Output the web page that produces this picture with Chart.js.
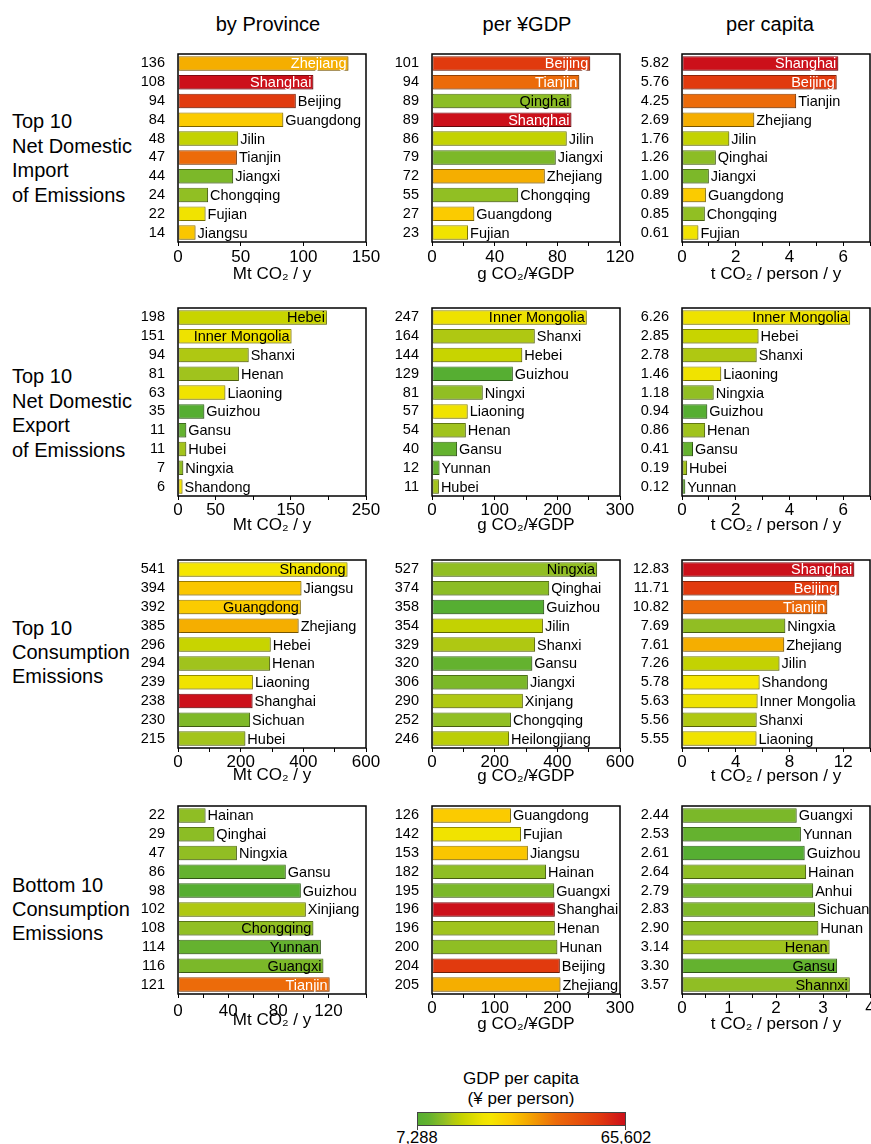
<!DOCTYPE html>
<html>
<head>
<meta charset="utf-8">
<script src="https://cdn.jsdelivr.net/npm/chart.js@4.4.1/dist/chart.umd.min.js"></script>
<style>
  html, body { margin: 0; padding: 0; background: #fff; }
  body { width: 871px; height: 1144px; position: relative; overflow: hidden;
         font-family: "Liberation Sans", Arial, sans-serif; color: #000; }
  .abs { position: absolute; white-space: nowrap; }
  .coltitle { font-size: 20px; line-height: 24.5px; width: 200px; text-align: center; }
  .rowlabel { font-size: 20px; line-height: 24.5px; left: 12px; }
  .panel { position: absolute; }
</style>
</head>
<body>
<div class="abs coltitle" style="left:168px;top:12px">by Province</div>
<div class="abs coltitle" style="left:427px;top:12px">per ¥GDP</div>
<div class="abs coltitle" style="left:670px;top:12px">per capita</div>

<div class="abs rowlabel" style="top:109px">Top 10<br>Net Domestic<br>Import<br>of Emissions</div>
<div class="abs rowlabel" style="top:364px">Top 10<br>Net Domestic<br>Export<br>of Emissions</div>
<div class="abs rowlabel" style="top:616px;line-height:24px">Top 10<br>Consumption<br>Emissions</div>
<div class="abs rowlabel" style="top:873px;line-height:24px">Bottom 10<br>Consumption<br>Emissions</div>

<div class="abs" style="left:421px;top:1069px;width:200px;text-align:center;font-size:17px;line-height:20px">GDP per capita<br>(¥ per person)</div>
<div id="cbar" class="abs" style="left:417px;top:1112px;width:209px;height:14px;box-sizing:border-box;border:1px solid #444"></div>
<div class="abs" style="left:417px;top:1126px;width:1px;height:4px;background:#444"></div>
<div class="abs" style="left:625px;top:1126px;width:1px;height:4px;background:#444"></div>
<div id="cbarLo" class="abs" style="left:367px;top:1127px;width:100px;text-align:center;font-size:16.5px;line-height:20px"></div>
<div id="cbarHi" class="abs" style="left:576px;top:1127px;width:100px;text-align:center;font-size:16.5px;line-height:20px"></div>

<script>
// ---- data ----
// Top 10 net domestic import of emissions
const importTotalNames = ['Zhejiang', 'Shanghai', 'Beijing', 'Guangdong', 'Jilin', 'Tianjin', 'Jiangxi', 'Chongqing', 'Fujian', 'Jiangsu'];
const importTotalValues = [136, 108, 94, 84, 48, 47, 44, 24, 22, 14];
const importTotalTicks = [0, 50, 100, 150];
const importGdpNames = ['Beijing', 'Tianjin', 'Qinghai', 'Shanghai', 'Jilin', 'Jiangxi', 'Zhejiang', 'Chongqing', 'Guangdong', 'Fujian'];
const importGdpValues = [101, 94, 89, 89, 86, 79, 72, 55, 27, 23];
const importGdpTicks = [0, 40, 80, 120];
const importCapNames = ['Shanghai', 'Beijing', 'Tianjin', 'Zhejiang', 'Jilin', 'Qinghai', 'Jiangxi', 'Guangdong', 'Chongqing', 'Fujian'];
const importCapValues = [5.82, 5.76, 4.25, 2.69, 1.76, 1.26, 1.00, 0.89, 0.85, 0.61];
const importCapTicks = [0, 2, 4, 6];

// Top 10 net domestic export of emissions
const exportTotalNames = ['Hebei', 'Inner Mongolia', 'Shanxi', 'Henan', 'Liaoning', 'Guizhou', 'Gansu', 'Hubei', 'Ningxia', 'Shandong'];
const exportTotalValues = [198, 151, 94, 81, 63, 35, 11, 11, 7, 6];
const exportTotalTicks = [0, 50, 150, 250];
const exportGdpNames = ['Inner Mongolia', 'Shanxi', 'Hebei', 'Guizhou', 'Ningxi', 'Liaoning', 'Henan', 'Gansu', 'Yunnan', 'Hubei'];
const exportGdpValues = [247, 164, 144, 129, 81, 57, 54, 40, 12, 11];
const exportGdpTicks = [0, 100, 200, 300];
const exportCapNames = ['Inner Mongolia', 'Hebei', 'Shanxi', 'Liaoning', 'Ningxia', 'Guizhou', 'Henan', 'Gansu', 'Hubei', 'Yunnan'];
const exportCapValues = [6.26, 2.85, 2.78, 1.46, 1.18, 0.94, 0.86, 0.41, 0.19, 0.12];
const exportCapTicks = [0, 2, 4, 6];

// Top 10 consumption emissions
const topTotalNames = ['Shandong', 'Jiangsu', 'Guangdong', 'Zhejiang', 'Hebei', 'Henan', 'Liaoning', 'Shanghai', 'Sichuan', 'Hubei'];
const topTotalValues = [541, 394, 392, 385, 296, 294, 239, 238, 230, 215];
const topTotalTicks = [0, 200, 400, 600];
const topGdpNames = ['Ningxia', 'Qinghai', 'Guizhou', 'Jilin', 'Shanxi', 'Gansu', 'Jiangxi', 'Xinjang', 'Chongqing', 'Heilongjiang'];
const topGdpValues = [527, 374, 358, 354, 329, 320, 306, 290, 252, 246];
const topGdpTicks = [0, 200, 400, 600];
const topCapNames = ['Shanghai', 'Beijing', 'Tianjin', 'Ningxia', 'Zhejiang', 'Jilin', 'Shandong', 'Inner Mongolia', 'Shanxi', 'Liaoning'];
const topCapValues = [12.83, 11.71, 10.82, 7.69, 7.61, 7.26, 5.78, 5.63, 5.56, 5.55];
const topCapTicks = [0, 4, 8, 12];

// Bottom 10 consumption emissions
const bottomTotalNames = ['Hainan', 'Qinghai', 'Ningxia', 'Gansu', 'Guizhou', 'Xinjiang', 'Chongqing', 'Yunnan', 'Guangxi', 'Tianjin'];
const bottomTotalValues = [22, 29, 47, 86, 98, 102, 108, 114, 116, 121];
const bottomTotalTicks = [0, 40, 80, 120];
const bottomGdpNames = ['Guangdong', 'Fujian', 'Jiangsu', 'Hainan', 'Guangxi', 'Shanghai', 'Henan', 'Hunan', 'Beijing', 'Zhejiang'];
const bottomGdpValues = [126, 142, 153, 182, 195, 196, 196, 200, 204, 205];
const bottomGdpTicks = [0, 100, 200, 300];
const bottomCapNames = ['Guangxi', 'Yunnan', 'Guizhou', 'Hainan', 'Anhui', 'Sichuan', 'Hunan', 'Henan', 'Gansu', 'Shannxi'];
const bottomCapValues = [2.44, 2.53, 2.61, 2.64, 2.79, 2.83, 2.90, 3.14, 3.30, 3.57];
const bottomCapTicks = [0, 1, 2, 3, 4];

// GDP per capita (¥ per person)
const gdpProvinces = ['Shanghai', 'Beijing', 'Tianjin', 'Zhejiang', 'Jiangsu', 'Guangdong', 'Shandong', 'Fujian',
  'Liaoning', 'Inner Mongolia', 'Hebei', 'Jilin', 'Heilongjiang', 'Xinjiang', 'Shanxi', 'Hubei', 'Henan',
  'Chongqing', 'Ningxia', 'Hainan', 'Hunan', 'Shaanxi', 'Qinghai', 'Sichuan', 'Jiangxi', 'Guangxi', 'Anhui',
  'Yunnan', 'Gansu', 'Guizhou'];
const gdpPerCapita = [65602, 58204, 46122, 37411, 33928, 33151, 27807, 25908,
  25729, 25393, 19877, 19383, 18478, 16999, 16945, 16206, 16012,
  14660, 14649, 14555, 14492, 14607, 14257, 12893, 12633, 12555, 12045,
  10540, 10346, 7288];
const colorbarTicks = [7288, 65602];
// spellings used in the figure labels
const nameAlias = { Ningxi: 'Ningxia', Xinjang: 'Xinjiang', Shannxi: 'Shaanxi' };

// ---- colour map (green -> yellow -> red) ----
const cmapStops = [
  [0.000, '#56ae32'], [0.054, '#64b22f'], [0.090, '#7bb829'], [0.124, '#8fbe24'],
  [0.152, '#a2c41c'], [0.166, '#afc812'], [0.195, '#bccf06'], [0.212, '#c6d300'],
  [0.315, '#f0e300'], [0.352, '#f5e600'], [0.450, '#fbc900'], [0.517, '#f5ae00'],
  [0.666, '#ec6b0a'], [0.873, '#e13a0e'], [1.000, '#cc101a']
];
const hexRgb = h => [1, 3, 5].map(i => parseInt(h.slice(i, i + 2), 16));
function cmap(t) {
  t = Math.max(0, Math.min(1, t));
  for (let i = 1; i < cmapStops.length; i++) {
    const [t1, c1] = cmapStops[i];
    if (t <= t1) {
      const [t0, c0] = cmapStops[i - 1];
      const f = (t - t0) / (t1 - t0);
      const a = hexRgb(c0), b = hexRgb(c1);
      return a.map((v, k) => Math.round(v + (b[k] - v) * f));
    }
  }
  return hexRgb(cmapStops[cmapStops.length - 1][1]);
}
function gdpFrac(name) {
  const g = gdpPerCapita[gdpProvinces.indexOf(nameAlias[name] || name)];
  return (g - colorbarTicks[0]) / (colorbarTicks[1] - colorbarTicks[0]);
}
const rgb = c => `rgb(${c[0]},${c[1]},${c[2]})`;
const fillFor = name => rgb(cmap(gdpFrac(name)));
const edgeFor = name => rgb(cmap(gdpFrac(name)).map(v => Math.round(v * 0.62)));

// colour bar
document.getElementById('cbar').style.background =
  'linear-gradient(to right,' + cmapStops.map(([t, c]) => `${c} ${(t * 100).toFixed(1)}%`).join(',') + ')';
document.getElementById('cbarLo').textContent = colorbarTicks[0].toLocaleString('en-US');
document.getElementById('cbarHi').textContent = colorbarTicks[1].toLocaleString('en-US');

// ---- panels ----
const FONT = '"Liberation Sans", Arial, sans-serif';
Chart.defaults.font.family = FONT;
Chart.defaults.color = '#000';

const colLeft = [178, 432, 682];
const rowTop = [54, 308, 560, 806];
const PLOT = 188, PAD_TOP = 16, Y_W = 62, X_H = 50, PAD_R = 16;

const panels = [
  { r: 0, c: 0, names: importTotalNames, values: importTotalValues, ticks: importTotalTicks, dec: 0, max: 150, step: 50, tickPad: 1.3, titleOff: 32.5, title: 'Mt CO₂ / y' },
  { r: 0, c: 1, names: importGdpNames, values: importGdpValues, ticks: importGdpTicks, dec: 0, max: 120, step: 20, tickPad: 1.3, titleOff: 32.5, title: 'g CO₂/¥GDP' },
  { r: 0, c: 2, names: importCapNames, values: importCapValues, ticks: importCapTicks, dec: 2, max: 7, step: 1, tickPad: 1.3, titleOff: 32.5, title: 't CO₂ / person / y' },
  { r: 1, c: 0, names: exportTotalNames, values: exportTotalValues, ticks: exportTotalTicks, dec: 0, max: 250, step: 50, tickPad: 0.1, titleOff: 29.5, title: 'Mt CO₂ / y' },
  { r: 1, c: 1, names: exportGdpNames, values: exportGdpValues, ticks: exportGdpTicks, dec: 0, max: 300, step: 50, tickPad: 0.1, titleOff: 29.5, title: 'g CO₂/¥GDP' },
  { r: 1, c: 2, names: exportCapNames, values: exportCapValues, ticks: exportCapTicks, dec: 2, max: 7, step: 1, tickPad: 0.1, titleOff: 29.5, title: 't CO₂ / person / y' },
  { r: 2, c: 0, names: topTotalNames, values: topTotalValues, ticks: topTotalTicks, dec: 0, max: 600, step: 100, tickPad: 0, titleOff: 27, title: 'Mt CO₂ / y' },
  { r: 2, c: 1, names: topGdpNames, values: topGdpValues, ticks: topGdpTicks, dec: 0, max: 600, step: 100, tickPad: 0, titleOff: 28, title: 'g CO₂/¥GDP' },
  { r: 2, c: 2, names: topCapNames, values: topCapValues, ticks: topCapTicks, dec: 2, max: 14, step: 2, tickPad: 0, titleOff: 28.5, title: 't CO₂ / person / y' },
  { r: 3, c: 0, names: bottomTotalNames, values: bottomTotalValues, ticks: bottomTotalTicks, dec: 0, max: 150, step: 20, tickPad: 2.8, titleOff: 26.5, title: 'Mt CO₂ / y' },
  { r: 3, c: 1, names: bottomGdpNames, values: bottomGdpValues, ticks: bottomGdpTicks, dec: 0, max: 300, step: 50, tickPad: 0.3, titleOff: 30, title: 'g CO₂/¥GDP' },
  { r: 3, c: 2, names: bottomCapNames, values: bottomCapValues, ticks: bottomCapTicks, dec: 2, max: 4, step: 0.5, tickPad: 0.3, titleOff: 30, title: 't CO₂ / person / y' }
];

// province names at the end of each bar, inside when they would not fit
const barNames = {
  id: 'barNames',
  beforeDatasetsDraw(chart) {
    const ctx = chart.ctx;
    ctx.save();
    ctx.shadowColor = 'rgba(0,0,0,0.22)';
    ctx.shadowOffsetX = 1;
    ctx.shadowOffsetY = 1;
    ctx.shadowBlur = 0;
  },
  afterDatasetsDraw(chart) {
    const { ctx, chartArea } = chart;
    ctx.restore();
    ctx.save();
    ctx.font = '14.5px ' + FONT;
    ctx.textBaseline = 'middle';
    chart.getDatasetMeta(0).data.forEach((bar, i) => {
      const name = chart.data.labels[i];
      const tw = ctx.measureText(name).width;
      if (bar.x + 2 + tw > chartArea.right) {
        ctx.textAlign = 'right';
        ctx.fillStyle = gdpFrac(name) > 0.48 ? '#fff' : '#000';
        ctx.fillText(name, bar.x - 2, bar.y + 1);
      } else {
        ctx.textAlign = 'left';
        ctx.fillStyle = '#000';
        ctx.fillText(name, bar.x + 2, bar.y + 1);
      }
    });
    ctx.restore();
  }
};

// black box round the plot area
const frame = {
  id: 'frame',
  afterDraw(chart) {
    const { ctx, chartArea: a } = chart;
    ctx.save();
    ctx.strokeStyle = '#000';
    ctx.lineWidth = 1.5;
    ctx.strokeRect(a.left, a.top, a.right - a.left, a.bottom - a.top);
    ctx.restore();
  }
};

panels.forEach(p => {
  const box = document.createElement('div');
  box.className = 'panel';
  box.style.left = (colLeft[p.c] - Y_W) + 'px';
  box.style.top = (rowTop[p.r] - PAD_TOP) + 'px';
  box.style.width = (Y_W + PLOT + PAD_R) + 'px';
  box.style.height = (PAD_TOP + PLOT + X_H) + 'px';
  const cv = document.createElement('canvas');
  box.appendChild(cv);
  document.body.appendChild(box);

  new Chart(cv, {
    type: 'bar',
    data: {
      labels: p.names,
      datasets: [{
        data: p.values,
        backgroundColor: p.names.map(fillFor),
        borderColor: p.names.map(edgeFor),
        borderWidth: 1,
        borderSkipped: false,
        barPercentage: 0.77,
        categoryPercentage: 1
      }]
    },
    options: {
      indexAxis: 'y',
      responsive: true,
      maintainAspectRatio: false,
      animation: false,
      layout: { padding: { top: PAD_TOP, right: PAD_R, left: 0, bottom: 0 } },
      plugins: { legend: { display: false }, tooltip: { enabled: false } },
      scales: {
        y: {
          type: 'category',
          grid: { display: false },
          border: { display: false },
          ticks: {
            autoSkip: false,
            padding: 5,
            font: { size: 14.5 },
            callback: (v, i) => p.values[i].toFixed(p.dec)
          },
          afterFit: s => { s.width = Y_W; }
        },
        x: {
          type: 'linear',
          min: 0,
          max: p.max,
          grid: { display: true, drawOnChartArea: false, drawTicks: true, tickLength: 4, color: '#000', lineWidth: 1 },
          border: { display: false },
          ticks: {
            stepSize: p.step,
            autoSkip: false,
            maxRotation: 0,
            padding: p.tickPad,
            font: { size: 17 },
            callback: v => p.ticks.some(t => Math.abs(t - v) < 1e-9) ? String(v) : ''
          },
          title: {
            display: true,
            text: p.title,
            font: { size: 17 },
            padding: { top: 0, bottom: X_H - p.titleOff - 10.2 }
          },
          afterFit: s => { s.height = X_H; }
        }
      }
    },
    plugins: [barNames, frame]
  });
});
</script>
</body>
</html>
